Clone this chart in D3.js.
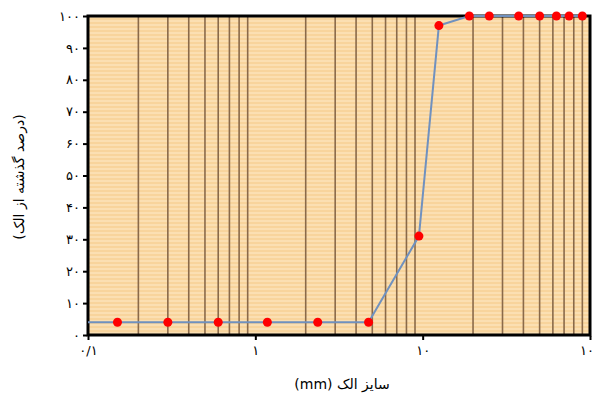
<!DOCTYPE html>
<html>
<head>
<meta charset="utf-8">
<script src="https://cdn.jsdelivr.net/npm/d3@7"></script>
<style>
  body { margin: 0; background: #fff; }
  text { font-family: "DejaVu Sans", sans-serif; fill: #000; }
</style>
</head>
<body>
<svg id="chart" width="594" height="406"></svg>
<script>
// sieve sizes (mm) and percent passing
const sieveSizes = [0.15, 0.3, 0.6, 1.18, 2.36, 4.75, 9.5, 12.5, 19, 25, 37.5, 50, 63, 75, 90]
const percentPassing = [4, 4, 4, 4, 4, 4, 31, 97, 100, 100, 100, 100, 100, 100, 100]

const xTickValues = [0.1, 1, 10, 100]
const xTickLabels = ['۰/۱', '۱', '۱۰', '۱۰۰']
const yTickValues = [0, 10, 20, 30, 40, 50, 60, 70, 80, 90, 100]

const xTitle = 'سایز الک (mm)'
const yTitle = '(درصد گذشته از الک)'

const faDigits = '۰۱۲۳۴۵۶۷۸۹'
const toFa = n => String(n).replace(/\d/g, c => faDigits[c])

const margin = {top: 16, right: 4, bottom: 71, left: 88}
const svg = d3.select('#chart')
const width = +svg.attr('width')
const height = +svg.attr('height')

const x = d3.scaleLog()
            .domain([0.1, 100])
            .range([margin.left, width - margin.right])
const y = d3.scaleLinear()
            .domain([0, 100])
            .range([height - margin.bottom, margin.top])

// striped peach background
const defs = svg.append('defs')
const pat = defs.append('pattern')
  .attr('id', 'stripes')
  .attr('patternUnits', 'userSpaceOnUse')
  .attr('width', 8).attr('height', 4)
pat.append('rect').attr('width', 8).attr('height', 4).attr('fill', '#fbdfb2')
pat.append('rect').attr('y', 2).attr('width', 8).attr('height', 2).attr('fill', '#f8d49c')

svg.append('rect')
  .attr('x', x(0.1)).attr('y', y(100))
  .attr('width', x(100) - x(0.1)).attr('height', y(0) - y(100))
  .attr('fill', 'url(#stripes)')

// minor vertical grid lines (2..9 of each decade)
const minor = x.ticks().filter(v => Math.abs(Math.log10(v) - Math.round(Math.log10(v))) > 1e-6)
svg.append('g')
  .selectAll('line')
  .data(minor)
  .join('line')
    .attr('x1', d => x(d)).attr('x2', d => x(d))
    .attr('y1', y(100)).attr('y2', y(0))
    .attr('stroke', '#8a6a4a')
    .attr('stroke-width', 1.6)

// axes
const axisY = d3.axisLeft(y).tickValues(yTickValues).tickSize(4).tickPadding(3).tickFormat(toFa)
const gy = svg.append('g')
  .attr('transform', `translate(${x(0.1) - 1}, 0)`)
  .call(axisY)
gy.select('.domain').remove()
gy.selectAll('.tick line').attr('stroke', '#000').attr('stroke-width', 2)
gy.selectAll('.tick text').attr('font-size', 13)

const axisX = d3.axisBottom(x).tickValues(xTickValues).tickSize(4).tickPadding(6)
                .tickFormat((d, i) => xTickLabels[i])
const gx = svg.append('g')
  .attr('transform', `translate(0, ${y(0) + 1})`)
  .call(axisX)
gx.select('.domain').remove()
gx.selectAll('.tick line').attr('stroke', '#000').attr('stroke-width', 2)
gx.selectAll('.tick text').attr('font-size', 13)

// plot border
svg.append('rect')
  .attr('x', x(0.1)).attr('y', y(100))
  .attr('width', x(100) - x(0.1)).attr('height', y(0) - y(100))
  .attr('fill', 'none')
  .attr('stroke', '#000')
  .attr('stroke-width', 3)

// grading curve
const data = sieveSizes.map((s, i) => ({x: s, y: percentPassing[i]}))
const line = d3.line()
               .x(d => x(d.x))
               .y(d => y(d.y))
svg.append('path')
  .attr('d', line([{x: 0.1, y: percentPassing[0]}].concat(data)))
  .attr('fill', 'none')
  .attr('stroke', '#7091bf')
  .attr('stroke-width', 2)

svg.append('g')
  .selectAll('circle')
  .data(data)
  .join('circle')
    .attr('cx', d => x(d.x))
    .attr('cy', d => y(d.y))
    .attr('r', 4.5)
    .attr('fill', '#ff0000')

// titles
svg.append('text')
  .attr('x', 342).attr('y', 389)
  .attr('text-anchor', 'middle')
  .attr('direction', 'rtl')
  .attr('font-size', 14)
  .text(xTitle)

svg.append('text')
  .attr('transform', 'translate(24, 177) rotate(-90)')
  .attr('text-anchor', 'middle')
  .attr('direction', 'rtl')
  .attr('font-size', 14)
  .text(yTitle)
</script>
</body>
</html>
